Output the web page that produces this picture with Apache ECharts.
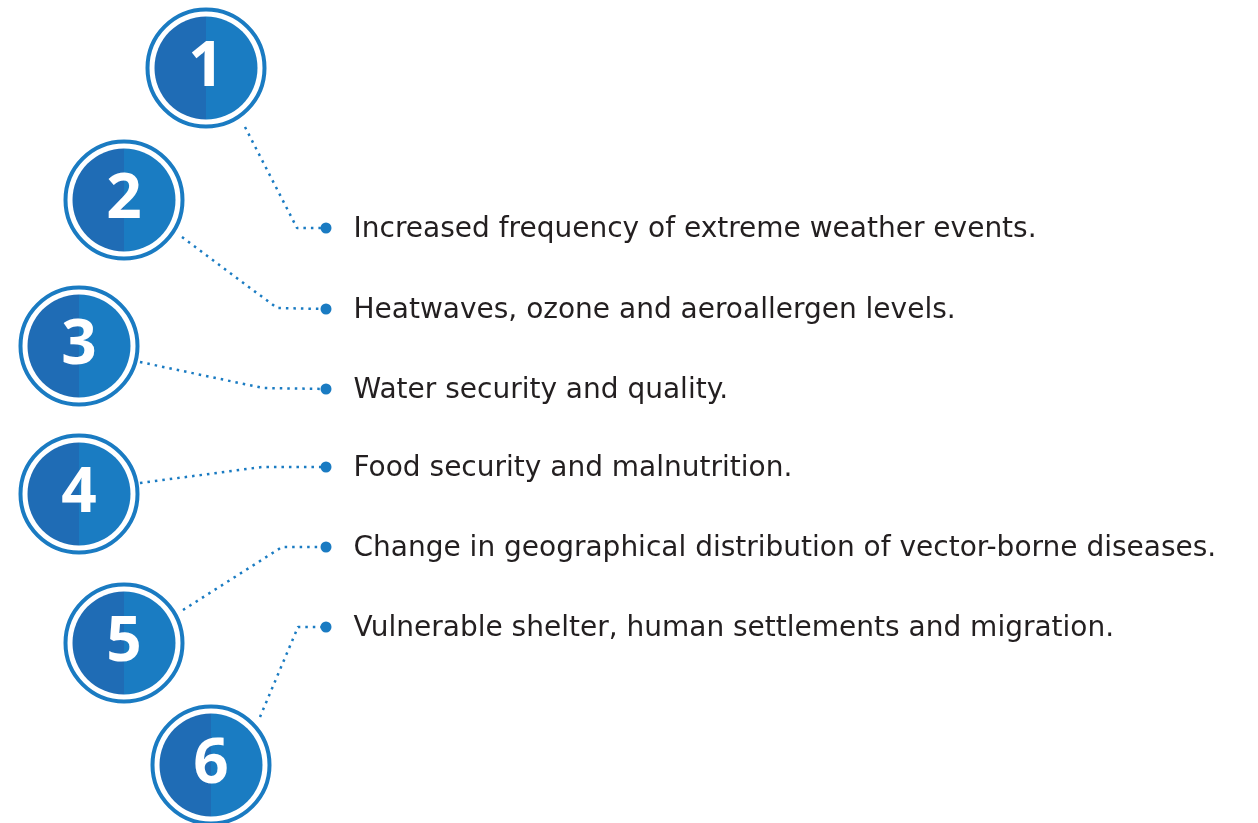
<!DOCTYPE html>
<html>
<head>
<meta charset="utf-8">
<script src="https://cdn.jsdelivr.net/npm/echarts@6/dist/echarts.min.js"></script>
<style>
  html, body { margin: 0; padding: 0; background: #fff; }
  #chart { width: 1258px; height: 823px; }
</style>
</head>
<body>
<div id="chart"></div>
<script>
// numbered circles
var numbers = ['1', '2', '3', '4', '5', '6'];
var circleX = [206, 124, 79, 79, 124, 211];
var circleY = [68, 200, 346, 494, 643, 765];

// bullet items
var items = [
    'Increased frequency of extreme weather events.',
    'Heatwaves, ozone and aeroallergen levels.',
    'Water security and quality.',
    'Food security and malnutrition.',
    'Change in geographical distribution of vector-borne diseases.',
    'Vulnerable shelter, human settlements and migration.'
];
var dotX = 326;
var dotY = [228, 309, 389, 467, 547, 627];

// dotted connectors: start at circle edge, bend, end at the dot
var linkStart = [[245, 127], [182, 237], [140, 362], [140, 483], [183, 610], [260, 717]];
var linkBend = [[297, 228], [277, 308], [263, 388], [262, 467], [282, 547], [298, 627]];

var blue = '#1a7bc2';

var circleData = numbers.map(function (n, i) { return {name: n, value: [circleX[i], circleY[i]]}; });
var dotData = items.map(function (t, i) { return {name: t, value: [dotX, dotY[i]]}; });

var lineSeries = linkStart.map(function (s, i) {
    return {
        type: 'line',
        silent: true,
        symbol: 'none',
        lineStyle: {color: blue, width: 2.5, type: [2.5, 5]},
        data: [s, linkBend[i], [dotX, dotY[i]]],
        z: 1
    };
});

var myChart = echarts.init(document.getElementById('chart'));
var option = {
    animation: false,
    grid: {left: 0, right: 0, top: 0, bottom: 0},
    xAxis: {type: 'value', min: 0, max: 1258, show: false},
    yAxis: {type: 'value', min: 0, max: 823, inverse: true, show: false},
    series: lineSeries.concat([
        {
            // outer ring
            type: 'scatter',
            symbolSize: 117,
            itemStyle: {color: '#fff', borderColor: blue, borderWidth: 4, opacity: 1},
            data: circleData,
            z: 2
        },
        {
            // inner disc, two-tone
            type: 'scatter',
            symbolSize: 103,
            itemStyle: {
                opacity: 1,
                color: {
                    type: 'linear', x: 0, y: 0, x2: 1, y2: 0,
                    colorStops: [
                        {offset: 0, color: '#1f6cb5'},
                        {offset: 0.5, color: '#1f6cb5'},
                        {offset: 0.5, color: '#1a7cc2'},
                        {offset: 1, color: '#1a7cc2'}
                    ]
                }
            },
            label: {
                show: true,
                position: 'inside',
                formatter: '{b}',
                color: '#fff',
                fontSize: 62,
                fontWeight: 'bold',
                fontFamily: 'Open Sans'
            },
            data: circleData,
            z: 3
        },
        {
            // bullets + text
            type: 'scatter',
            symbolSize: 11,
            itemStyle: {color: blue, opacity: 1},
            label: {
                show: true,
                position: 'right',
                distance: 22,
                offset: [0, 2],
                formatter: '{b}',
                color: '#231f20',
                fontSize: 28,
                fontFamily: 'DejaVu Sans'
            },
            data: dotData,
            z: 4
        }
    ])
};
myChart.setOption(option);
</script>
</body>
</html>
